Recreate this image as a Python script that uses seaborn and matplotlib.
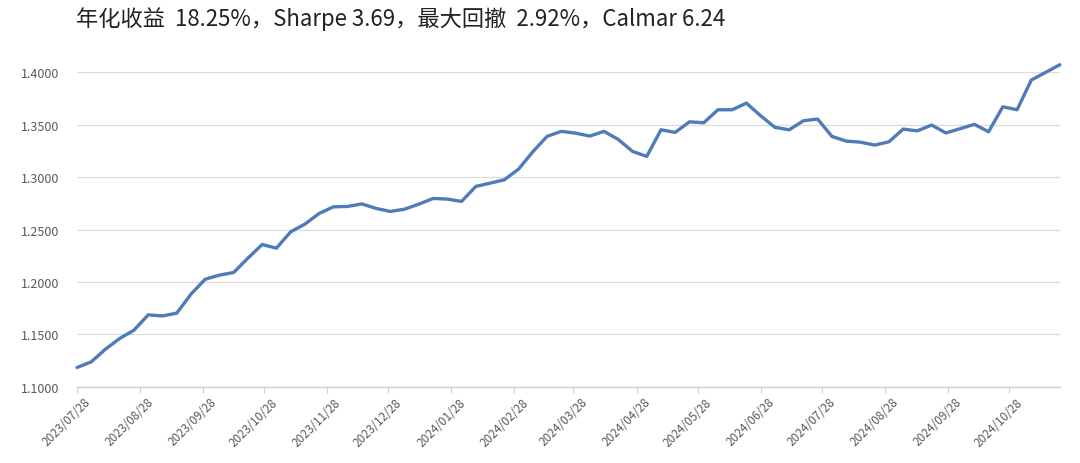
import matplotlib
matplotlib.use("Agg")
import matplotlib.pyplot as plt
import matplotlib.dates as mdates
import matplotlib.transforms as mtransforms
import seaborn as sns
import pandas as pd

# weekly net value
start_date = "2023-07-28"
nav = [
    1.1185, 1.1239, 1.1360, 1.1462, 1.1541, 1.1687, 1.1677, 1.1703, 1.1884, 1.2027,
    1.2066, 1.2091, 1.2228, 1.2358, 1.2323, 1.2479, 1.2552, 1.2654, 1.2717, 1.2721,
    1.2745, 1.2702, 1.2673, 1.2695, 1.2743, 1.2797, 1.2791, 1.2769, 1.2912, 1.2943,
    1.2975, 1.3077, 1.3242, 1.3389, 1.3437, 1.3420, 1.3392, 1.3437, 1.3360, 1.3246,
    1.3198, 1.3452, 1.3427, 1.3528, 1.3519, 1.3643, 1.3643, 1.3706, 1.3585, 1.3475,
    1.3452, 1.3538, 1.3554, 1.3389, 1.3344, 1.3334, 1.3306, 1.3337, 1.3458, 1.3442,
    1.3497, 1.3422, 1.3462, 1.3504, 1.3433, 1.3671, 1.3643, 1.3926, 1.3999, 1.4072,
]
y_ticks = [1.10, 1.15, 1.20, 1.25, 1.30, 1.35, 1.40]
title = "年化收益  18.25%，Sharpe 3.69，最大回撤  2.92%，Calmar 6.24"

dates = pd.date_range(start_date, periods=len(nav), freq="7D")
df = pd.DataFrame({"date": dates, "nav": nav})
# month ticks on the 28th, 2023/07/28 .. 2024/10/28
month_ticks = pd.date_range("2023-07-01", "2024-10-01", freq="MS") + pd.Timedelta(days=27)

sns.set_theme(style="white")
plt.rcParams["font.family"] = ["Noto Sans CJK SC", "DejaVu Sans"]

fig = plt.figure(figsize=(10.8, 4.64), dpi=100)
ax = fig.add_axes([0.0713, 0.164, 0.910, 0.678])

sns.lineplot(data=df, x="date", y="nav", ax=ax, color="#4f7cb8", linewidth=2.4)
for line in ax.get_lines():
    line.set_clip_on(False)
    line.set_solid_joinstyle("round")

ax.set_xlim(dates[0], dates[-1])
ax.set_ylim(1.1, 1.4)
ax.set_yticks(y_ticks)
ax.yaxis.set_major_formatter(matplotlib.ticker.FormatStrFormatter("%.4f"))
ax.set_xticks(month_ticks)
ax.xaxis.set_major_formatter(mdates.DateFormatter("%Y/%m/%d"))
ax.set_xlabel("")
ax.set_ylabel("")

ax.grid(axis="y", color="#dcdcdc", linewidth=0.9)
ax.set_axisbelow(True)
for side in ["left", "right", "top"]:
    ax.spines[side].set_visible(False)
ax.spines["bottom"].set_color("#d0d0d0")
ax.spines["bottom"].set_linewidth(1.0)

ax.tick_params(axis="y", length=0, pad=13, labelsize=9, labelcolor="#595959")
ax.tick_params(axis="x", bottom=True, length=4, width=0.8, color="#d0d0d0",
               labelsize=8.5, labelcolor="#595959", pad=2)
# nudge the rotated date labels a little to the right, like the original
shift = mtransforms.ScaledTranslation(7 / 100, 0, fig.dpi_scale_trans)
for lab in ax.get_xticklabels():
    lab.set_rotation(45)
    lab.set_ha("right")
    lab.set_rotation_mode("anchor")
    lab.set_transform(lab.get_transform() + shift)

fig.text(0.070, 0.985, title, fontsize=16, color="#222222", va="top", ha="left")

fig.savefig("out.png", dpi=100)
